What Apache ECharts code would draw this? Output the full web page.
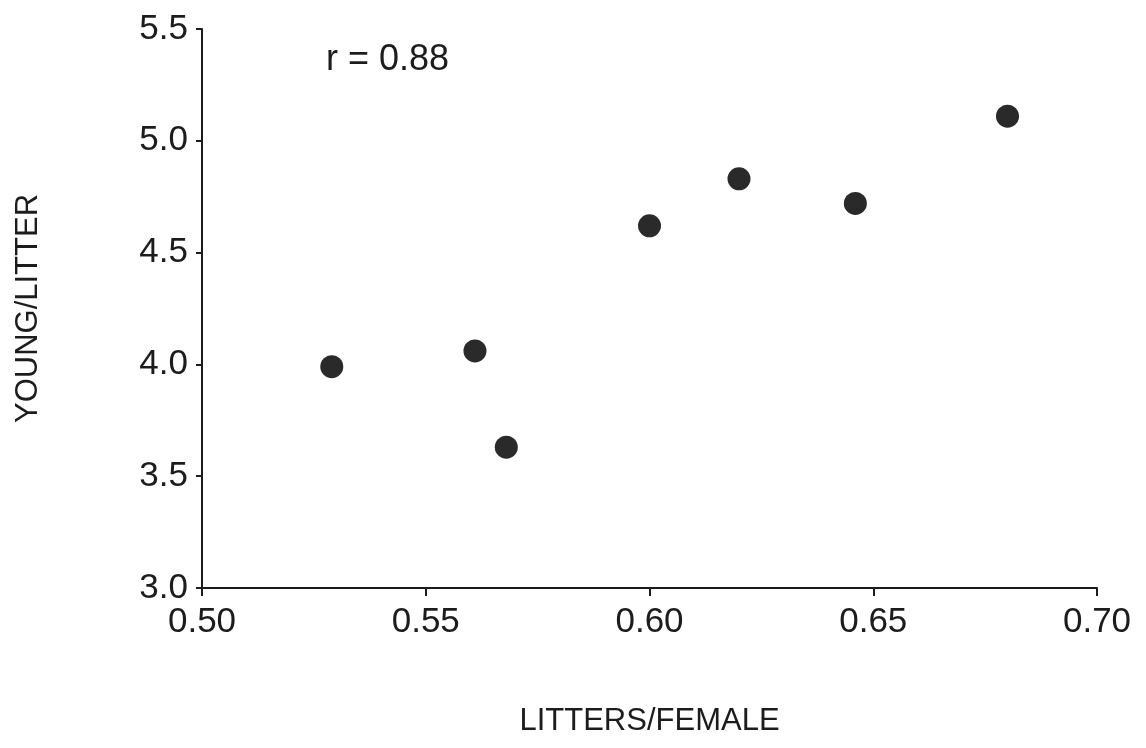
<!DOCTYPE html>
<html>
<head>
<meta charset="utf-8">
<script src="https://cdn.jsdelivr.net/npm/echarts@6/dist/echarts.min.js"></script>
<style>
html,body{margin:0;padding:0;background:#fff;}
#chart{width:1146px;height:748px;}
</style>
</head>
<body>
<div id="chart"></div>
<script>
// Data
const littersPerFemale = [0.529, 0.561, 0.568, 0.600, 0.620, 0.646, 0.680];
const youngPerLitter   = [3.99, 4.06, 3.63, 4.62, 4.83, 4.72, 5.11];
const xTicks = [0.50, 0.55, 0.60, 0.65, 0.70];
const yTicks = [3.0, 3.5, 4.0, 4.5, 5.0, 5.5];
const xName = 'LITTERS/FEMALE';
const yName = 'YOUNG/LITTER';
const annotation = 'r = 0.88';

const points = littersPerFemale.map((x, i) => [x, youngPerLitter[i]]);
const ink = '#1c1c1c';
const font = 'Liberation Sans';

const chart = echarts.init(document.getElementById('chart'), null, {renderer: 'canvas'});
chart.setOption({
  backgroundColor: '#fff',
  animation: false,
  grid: {left: 202, right: 49, top: 29, bottom: 160},
  xAxis: {
    type: 'value',
    min: xTicks[0], max: xTicks[xTicks.length - 1], interval: 0.05,
    name: xName, nameLocation: 'middle', nameGap: 118,
    nameTextStyle: {fontFamily: font, fontSize: 31, color: ink},
    axisLine: {show: true, lineStyle: {color: ink, width: 2}},
    axisTick: {show: true, length: 8, lineStyle: {color: ink, width: 2}},
    axisLabel: {margin: 17, fontFamily: font, fontSize: 35, color: ink,
      formatter: v => v.toFixed(2)},
    splitLine: {show: false}
  },
  yAxis: {
    type: 'value',
    min: yTicks[0], max: yTicks[yTicks.length - 1], interval: 0.5,
    name: yName, nameLocation: 'middle', nameGap: 158, nameRotate: 90,
    nameTextStyle: {fontFamily: font, fontSize: 31, color: ink},
    axisLine: {show: true, lineStyle: {color: ink, width: 2}},
    axisTick: {show: true, length: 6, lineStyle: {color: ink, width: 2}},
    axisLabel: {margin: 14, fontFamily: font, fontSize: 35, color: ink,
      formatter: v => v.toFixed(1)},
    splitLine: {show: false}
  },
  series: [{
    type: 'scatter',
    data: points,
    symbol: 'circle',
    symbolSize: 23,
    itemStyle: {color: '#2a2a2a', opacity: 1}
  }],
  graphic: [{
    type: 'text',
    left: 326, top: 42,
    style: {text: annotation, fontFamily: font, fontSize: 36, fill: ink}
  }]
});
</script>
</body>
</html>
